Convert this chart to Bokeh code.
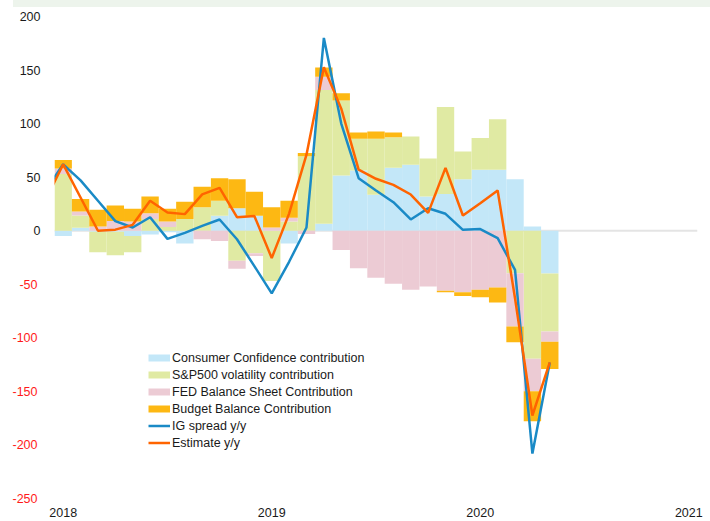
import numpy as np
from bokeh.plotting import figure
from bokeh.layouts import column
from bokeh.models import (ColumnDataSource, FixedTicker, Span, Legend, LegendItem, LinearAxis, Div)
from bokeh.embed import file_html
from bokeh.resources import INLINE

# month index: 0 = Jan 2018 ... 28 = May 2020
months = list(range(0, 29))
consumer_conf = [-5, 2.7, -1, -1, -5, -3.5, -1.5, -12, 0, 14, 21, 14, 0, -12, 0, 6.4,
                 51.5, 56.2, 33.5, 58.7, 61.5, 32, 34.4, 48, 57, 57, 48, 4, -40]
sp500_vol = [53, 11.5, -19, -22, -15, 11, 3.5, 11, 22, 14, -28, -21, -47, 8.6, 69.5, 125,
             70, 29.6, 52.3, 28.6, 26.5, 35.4, 81, 26, 29.5, 47, -39.7, -119.6, -54]
fed_bs = [5, 3.7, 4, 9, 8.5, 5.4, 5, 0, -8, -9.5, -7.5, -2.5, 3, 3.4, -3, 12.4,
          -18, -35, -44, -49.6, -55, -52, -56, -57.5, -55, -53, -49.8, -30.2, -9.7]
budget = [8, 11.8, 15.5, 14.5, 12, 15.5, 12, 16, 19, 21, 27, 22.4, 19, 16, 3, 8.7,
          6.8, 5.9, 6.8, 4.4, 0, 0, -1.5, -3.5, -7, -14, -14.6, -28, -25.5]

# lines start one month earlier (Dec 2017)
line_months = list(range(-1, 29))
ig_spread = [38, 62, 47, 28, 9, 3, 12.6, -7.6, -2, 4.5, 10.5, -8, -33, -58.5, -29, 3, 180,
             100, 49, 37.5, 26.6, 10.5, 21, 15.8, 0.8, 1.5, -7, -36.5, -208, -123]
estimate = [29, 62, 31, 0, 1, 5.5, 28, 17, 15.5, 34, 40, 12.6, 13.8, -25.5, 16, 71, 152.7,
            114, 57, 48.5, 42.8, 33.8, 16.7, 58.7, 14.2, 25.7, 37.5, -63, -172.5, -123]

year_ticks = [0, 12, 24, 36]
year_labels = ["2018", "2019", "2020", "2021"]
pos_ticks = [0, 50, 100, 150, 200]
neg_ticks = [-250, -200, -150, -100, -50]
neg_labels = ["-250", "-200", "-150", "-100", "-50"]

series_names = ["Consumer Confidence contribution", "S&P500 volatility contribution",
                "FED Balance Sheet Contribution", "Budget Balance Contribution"]
series_colors = ["#c3e7f8", "#e0eaa3", "#eccbd4", "#fdb813"]
series_vals = [consumer_conf, sp500_vol, fed_bs, budget]

FONT = "Liberation Sans"
FS = "12.5px"

p = figure(width=710, height=514, x_range=(-0.5, 36.5), y_range=(-250, 200),
           output_backend="svg", toolbar_location=None,
           min_border_left=54, min_border_right=13, min_border_top=9, min_border_bottom=23)
p.outline_line_color = None
p.xgrid.visible = False
p.ygrid.visible = False
p.background_fill_color = "white"
p.border_fill_color = "white"

p.add_layout(Span(location=0, dimension="width", line_color="#e4e4e4", line_width=2,
                  level="underlay"))

n = len(months)
pos = np.zeros(n)
neg = np.zeros(n)
for vals, color in zip(series_vals, series_colors):
    v = np.array(vals, dtype=float)
    bottom = np.where(v >= 0, pos, neg)
    top = bottom + v
    pos = np.where(v >= 0, top, pos)
    neg = np.where(v < 0, top, neg)
    src = ColumnDataSource(dict(x=months, bottom=bottom, top=top))
    p.vbar(x="x", width=1, bottom="bottom", top="top", source=src,
           fill_color=color, line_color=None)

r_ig = p.line(line_months, ig_spread, line_color="#1a8ac6", line_width=2.5)
r_est = p.line(line_months, estimate, line_color="#ff6400", line_width=2.5)

# legend swatches (proxy renderers without visible data)
items = []
for name, color in zip(series_names, series_colors):
    r = p.line(x=np.array([np.nan]), y=np.array([np.nan]), line_color=color, line_width=7)
    items.append(LegendItem(label=name, renderers=[r]))
items.append(LegendItem(label="IG spread y/y", renderers=[r_ig]))
items.append(LegendItem(label="Estimate y/y", renderers=[r_est]))
legend = Legend(items=items, location=(94, 47), padding=0, margin=0, spacing=0,
                glyph_width=22, glyph_height=17, label_height=17, label_standoff=2,
                border_line_color=None, background_fill_alpha=0,
                label_text_font=FONT, label_text_font_size=FS,
                label_text_color="#1a1a1a")
p.add_layout(legend)

# x axis
p.xaxis.ticker = FixedTicker(ticks=year_ticks)
p.xaxis.major_label_overrides = dict(zip(year_ticks, year_labels))
p.xaxis.axis_line_color = None
p.xaxis.major_tick_line_color = None
p.xaxis.minor_tick_line_color = None
p.xaxis.major_tick_out = 0
p.xaxis.major_tick_in = 0
p.xaxis.major_label_standoff = 9
p.xaxis.major_label_text_font = FONT
p.xaxis.major_label_text_font_size = FS
p.xaxis.major_label_text_color = "#1a1a1a"

# y axis: positives in black (inner), negatives in red (outer, pulled right)
def style_y(ax, color, standoff):
    ax.axis_line_color = None
    ax.major_tick_line_color = None
    ax.minor_tick_line_color = None
    ax.major_tick_out = 0
    ax.major_tick_in = 0
    ax.minor_tick_out = 0
    ax.minor_tick_in = 0
    ax.major_label_standoff = standoff
    ax.major_label_text_font = FONT
    ax.major_label_text_font_size = FS
    ax.major_label_text_color = color

p.yaxis.ticker = FixedTicker(ticks=pos_ticks)
style_y(p.yaxis[0], "#1a1a1a", 14)

neg_axis = LinearAxis(ticker=FixedTicker(ticks=neg_ticks))
neg_axis.major_label_overrides = dict(zip(neg_ticks, neg_labels))
style_y(neg_axis, "#ff1a1a", -21)
p.add_layout(neg_axis, "left")

band = Div(text="", width=697, height=7, margin=(0, 0, 0, 13),
           styles={"background-color": "#edf4ec"})
layout = column(band, p, spacing=0)

open("out.html", "w").write(file_html(layout, INLINE))
